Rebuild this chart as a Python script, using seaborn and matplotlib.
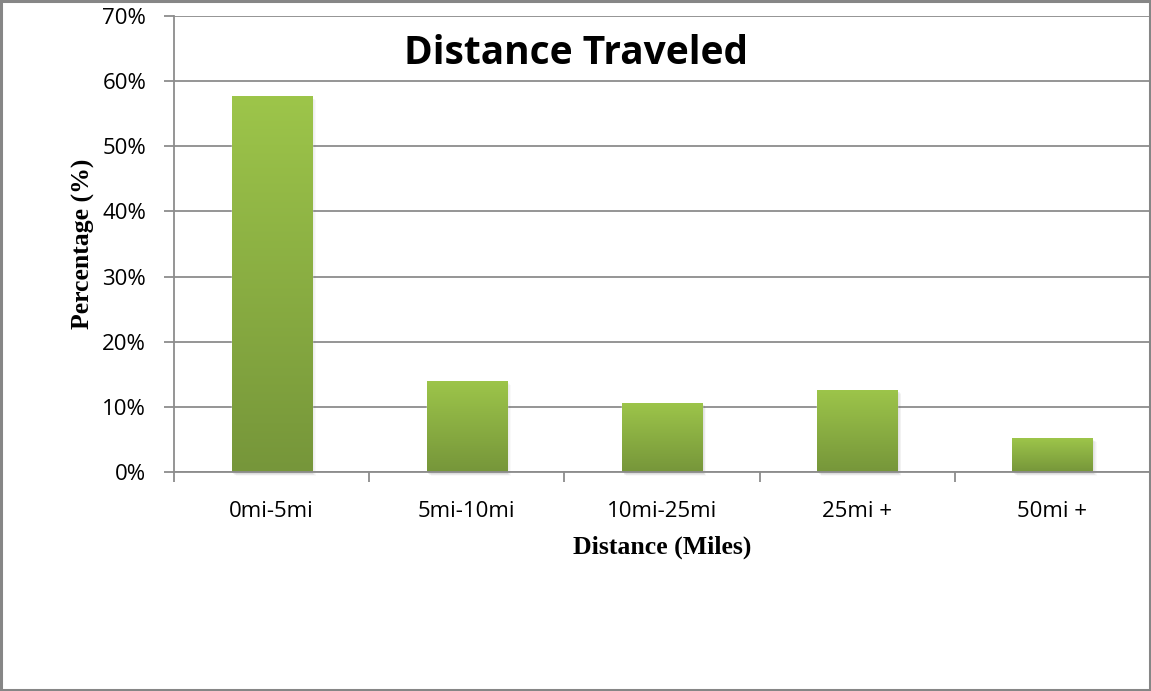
import numpy as np
import matplotlib
matplotlib.use("Agg")
import matplotlib.pyplot as plt
import matplotlib.transforms as mtransforms
from matplotlib.patches import Rectangle
from matplotlib.colors import LinearSegmentedColormap
from matplotlib.ticker import FixedLocator, FuncFormatter
import seaborn as sns

# Share of trips by distance band
categories = ["0mi-5mi", "5mi-10mi", "10mi-25mi", "25mi +", "50mi +"]
percentages = [57.7, 14.0, 10.6, 12.6, 5.2]
y_ticks = [0, 10, 20, 30, 40, 50, 60, 70]

title_text = "Distance Traveled"
x_label = "Distance (Miles)"
y_label = "Percentage (%)"

bar_top = "#9DC54A"
bar_bottom = "#76963A"
grid_grey = "#8C8C8C"

sns.set_theme(style="white")
plt.rcParams["font.family"] = ["Open Sans", "DejaVu Sans"]

fig = plt.figure(figsize=(11.51, 6.91), dpi=100)
ax = fig.add_axes([174 / 1151, 219 / 691, (1150 - 174) / 1151, (675 - 219) / 691])

sns.barplot(x=categories, y=percentages, color=bar_top, width=0.41,
            saturation=1, ax=ax, zorder=3)

ax.set_ylim(0, 70)
ax.set_xlim(-0.5, len(categories) - 0.5)

# Vertical gradient fill clipped to each bar, plus a soft grey drop shadow
cmap = LinearSegmentedColormap.from_list("bar", [bar_bottom, bar_top])
grad = np.linspace(0, 1, 256).reshape(-1, 1)
for p in list(ax.patches):
    x0, y0 = p.get_x(), p.get_y()
    w, h = p.get_width(), p.get_height()
    for k, a in [(1, 0.10), (2, 0.08), (3, 0.06), (4, 0.04), (5, 0.03)]:
        off = mtransforms.offset_copy(ax.transData, fig=fig, x=k * 0.6, y=-k * 0.6, units="points")
        ax.add_patch(Rectangle((x0, y0), w, h, transform=off, facecolor="#555555",
                               edgecolor="none", alpha=a, zorder=2, clip_on=False))
    im = ax.imshow(grad, extent=[x0, x0 + w, y0, y0 + h], origin="lower",
                   cmap=cmap, aspect="auto", zorder=4, interpolation="bilinear")
    im.set_clip_path(p)
ax.set_xlim(-0.5, len(categories) - 0.5)
ax.set_ylim(0, 70)

# Gridlines and axes
ax.yaxis.set_major_locator(FixedLocator(y_ticks))
ax.yaxis.set_major_formatter(FuncFormatter(lambda v, _: f"{int(v)}%"))
ax.grid(axis="y", color=grid_grey, linewidth=1.3, zorder=0)
ax.set_axisbelow(True)
for side in ["top", "right"]:
    ax.spines[side].set_visible(False)
for side in ["left", "bottom"]:
    ax.spines[side].set_color(grid_grey)
    ax.spines[side].set_linewidth(1.3)
    ax.spines[side].set_zorder(5)

ax.set_xticks(range(len(categories)))
ax.set_xticklabels(categories)
ax.set_xticks(np.arange(-0.5, len(categories) - 0.4, 1.0), minor=True)
ax.tick_params(axis="x", which="major", length=0, pad=21, labelsize=16, labelcolor="black")
ax.tick_params(axis="x", which="minor", length=7, width=1.3, color=grid_grey, direction="out", bottom=True)
ax.tick_params(axis="y", which="major", length=7, width=1.3, color=grid_grey, direction="out",
               left=True, pad=13, labelsize=16, labelcolor="black")

ax.set_xlabel(x_label, family="Liberation Serif", fontweight="bold", fontsize=18.5,
              color="black", labelpad=10)
ax.set_ylabel(y_label, family="Liberation Serif", fontweight="bold", fontsize=18.5,
              color="black", labelpad=5)

fig.text(576 / 1151, 1 - 53 / 691, title_text, ha="center", va="center",
         fontsize=28, fontweight="bold", color="black")

# Chart frame
fig.patches.append(Rectangle((0.001, 0.002), 0.998, 0.997, transform=fig.transFigure,
                             fill=False, edgecolor="#868686", linewidth=2.2, zorder=10))

fig.savefig("out.png", dpi=100)
